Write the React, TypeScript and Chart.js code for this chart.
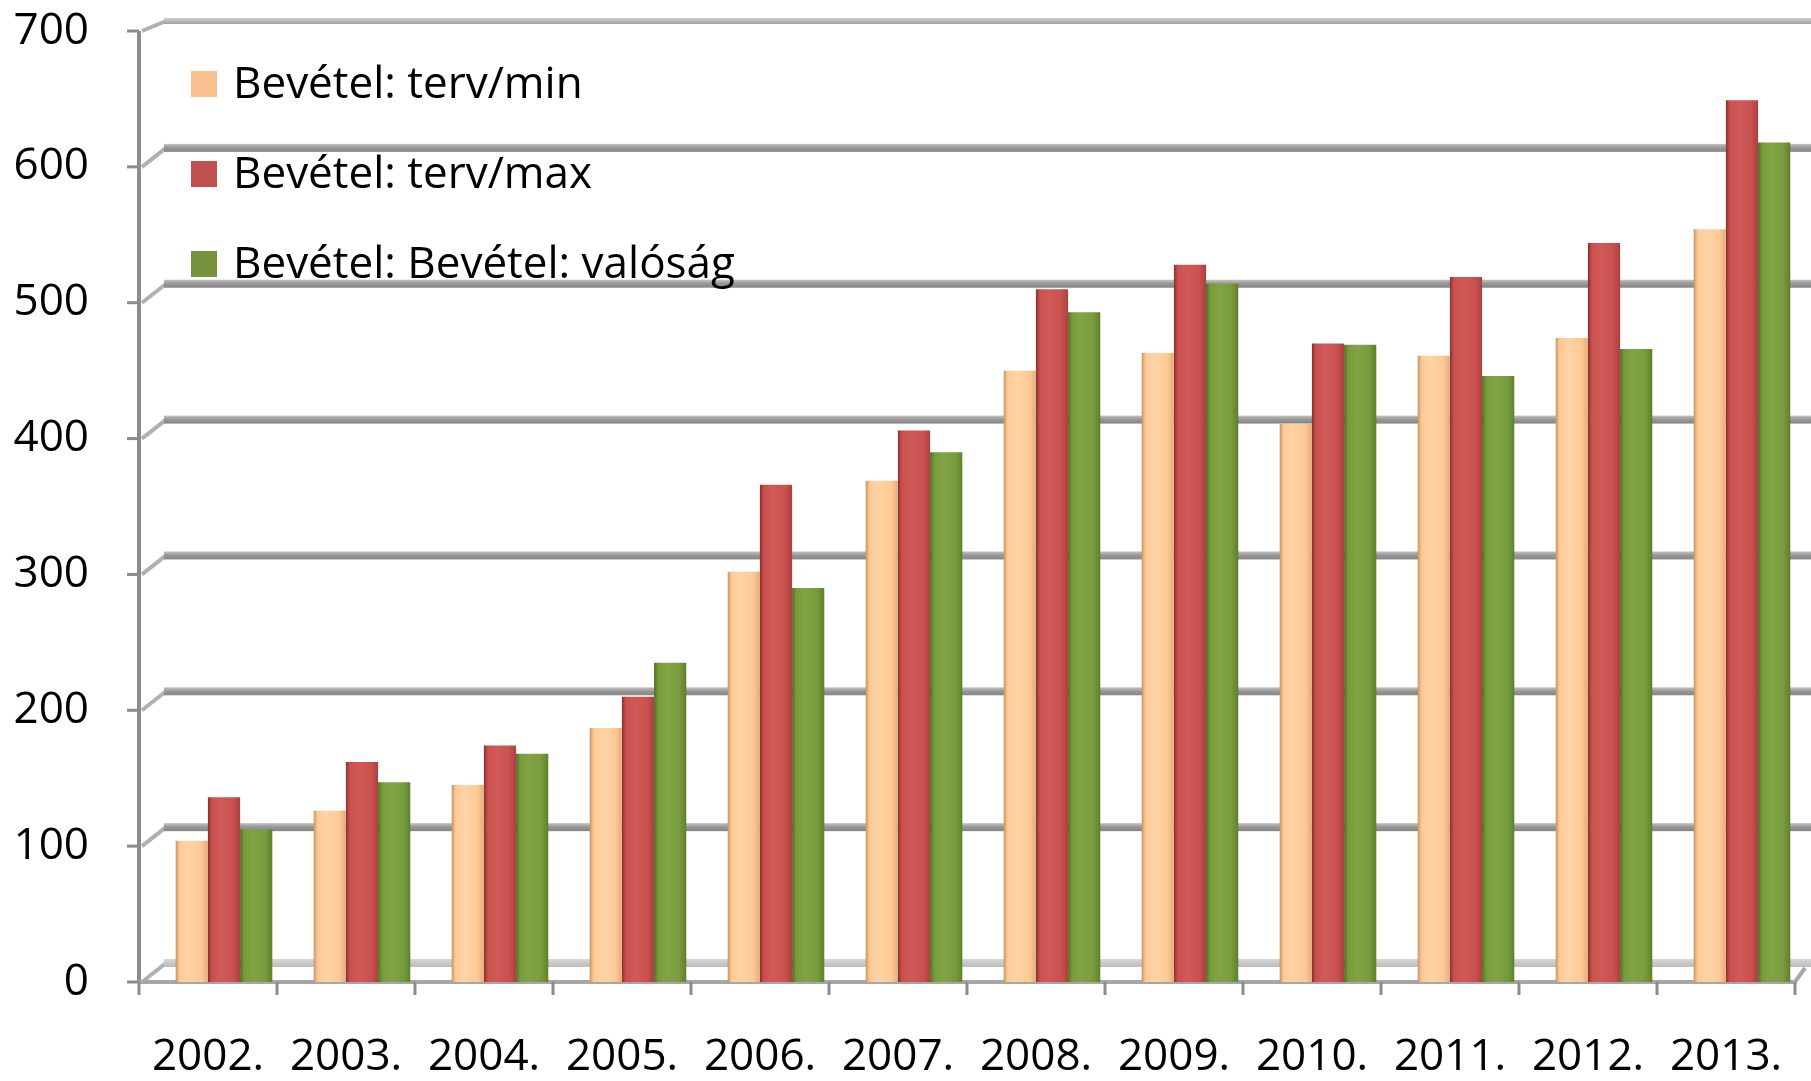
import React, { useEffect, useRef } from 'react';
import { Chart, registerables } from 'chart.js';

Chart.register(...registerables);

// ---- data ----
const categories = ['2002.', '2003.', '2004.', '2005.', '2006.', '2007.', '2008.', '2009.', '2010.', '2011.', '2012.', '2013.'];
const seriesLabels = ['Bevétel: terv/min', 'Bevétel: terv/max', 'Bevétel: Bevétel: valóság'];
const tervMin = [104, 126, 145, 187, 302, 369, 450, 463, 411, 461, 474, 554];
const tervMax = [136, 162, 174, 210, 366, 406, 510, 528, 470, 519, 544, 649];
const valosag = [112, 147, 168, 235, 290, 390, 493, 514, 469, 446, 466, 618];
const yTicks = [0, 100, 200, 300, 400, 500, 600, 700];

// ---- style ----
const W = 1811;
const H = 1081;
const FONT = '"Open Sans", sans-serif';
const FONT_SIZE = 44;
const DX = 16; // depth shift of bars vs. front axis
const DY = 19; // back-wall offset of gridlines
const legendColors = ['#FAC090', '#C0504D', '#77933C'];
const shades = [
  ['#C8935F', '#FFC994', '#FFD3A6', '#E3AC7C'],
  ['#8A2F2C', '#C9504E', '#D05A57', '#A8413E'],
  ['#4E6A24', '#779A3B', '#82A544', '#5E7F2C'],
];

function barFill(dsIndex: number) {
  return (c: any) => {
    const chart = c.chart;
    const xs = chart.scales?.x;
    const [d, m, l, r] = shades[dsIndex];
    if (!xs || c.type !== 'data' || !chart.chartArea) return m;
    const n = categories.length;
    const catW = (xs.right - xs.left) / n;
    const groupW = catW * 0.7;
    const barW = groupW / 3;
    const center = xs.getPixelForValue(c.dataIndex);
    const left = center - groupW / 2 + dsIndex * barW;
    const g = chart.ctx.createLinearGradient(left, 0, left + barW, 0);
    g.addColorStop(0, d);
    g.addColorStop(0.12, m);
    g.addColorStop(0.4, l);
    g.addColorStop(0.8, m);
    g.addColorStop(1, r);
    return g;
  };
}

const framePlugin = {
  id: 'frame3d',
  beforeDatasetsDraw(chart: any) {
    const { ctx, chartArea: a, scales } = chart;
    const y = scales.y;
    const x = scales.x;
    const axisX = a.left - DX;
    const yMax = yTicks[yTicks.length - 1];
    ctx.save();
    // back-wall gridlines
    yTicks.forEach((v) => {
      const py = y.getPixelForValue(v);
      const gy = v === yMax ? py - 10 : py - DY;
      const half = v === 0 ? 4 : v === yMax ? 3 : 4;
      // diagonal connector
      ctx.strokeStyle = '#b0b0b0';
      ctx.lineWidth = 4;
      ctx.beginPath();
      ctx.moveTo(axisX + 3, py);
      ctx.lineTo(axisX + 27, gy);
      ctx.stroke();
      // band
      const g = ctx.createLinearGradient(0, gy - half, 0, gy + half);
      if (v === 0) {
        g.addColorStop(0, '#d6d6d6');
        g.addColorStop(1, '#bcbcbc');
      } else if (v === yMax) {
        g.addColorStop(0, '#cfcfcf');
        g.addColorStop(1, '#a2a2a2');
      } else {
        g.addColorStop(0, '#c4c4c4');
        g.addColorStop(0.45, '#999999');
        g.addColorStop(1, '#858585');
      }
      ctx.fillStyle = g;
      ctx.fillRect(axisX + 25, gy - half, W - axisX - 25, half * 2);
    });
    // y axis line
    ctx.strokeStyle = '#8c8c8c';
    ctx.lineWidth = 4;
    ctx.beginPath();
    ctx.moveTo(axisX, y.getPixelForValue(yMax));
    ctx.lineTo(axisX, y.getPixelForValue(0));
    ctx.stroke();
    // y tick marks
    ctx.lineWidth = 3;
    yTicks.forEach((v) => {
      const py = y.getPixelForValue(v);
      ctx.beginPath();
      ctx.moveTo(axisX - 12, py);
      ctx.lineTo(axisX, py);
      ctx.stroke();
    });
    // x axis line
    const n = categories.length;
    const catW = (x.right - x.left) / n;
    const by = y.getPixelForValue(0);
    ctx.strokeStyle = '#a6a6a6';
    ctx.lineWidth = 4;
    ctx.beginPath();
    ctx.moveTo(axisX, by);
    ctx.lineTo(x.left + n * catW - DX, by);
    ctx.lineTo(x.left + n * catW - DX + 10, by - 14);
    ctx.stroke();
    // x tick marks
    ctx.strokeStyle = '#8c8c8c';
    ctx.lineWidth = 3;
    for (let i = 0; i <= n; i++) {
      const px = x.left + i * catW - DX;
      ctx.beginPath();
      ctx.moveTo(px, by);
      ctx.lineTo(px, by + 13);
      ctx.stroke();
    }
    ctx.restore();
  },
  afterDraw(chart: any) {
    const { ctx } = chart;
    ctx.save();
    ctx.font = `${FONT_SIZE}px ${FONT}`;
    ctx.textBaseline = 'middle';
    ctx.textAlign = 'left';
    const rows = [84, 174, 264];
    chart.data.datasets.forEach((ds: any, i: number) => {
      const cy = rows[i];
      ctx.fillStyle = legendColors[i];
      ctx.fillRect(191, cy - 13, 26, 26);
      ctx.fillStyle = '#000';
      ctx.fillText(ds.label, 233, cy + 1);
    });
    ctx.restore();
  },
};

export default function App() {
  const ref = useRef<HTMLCanvasElement>(null);
  useEffect(() => {
    document.body.style.margin = '0';
    const canvas = ref.current;
    if (!canvas) return;
    const chart = new Chart(canvas, {
      type: 'bar',
      data: {
        labels: categories,
        datasets: [tervMin, tervMax, valosag].map((d, i) => ({
          label: seriesLabels[i],
          data: d,
          backgroundColor: barFill(i),
          borderWidth: 0,
          categoryPercentage: 0.7,
          barPercentage: 1.0,
        })),
      },
      options: {
        responsive: false,
        animation: false,
        events: [],
        layout: { padding: { top: 31, left: 0, right: 0, bottom: 0 } },
        plugins: {
          legend: { display: false },
          tooltip: { enabled: false },
          title: { display: false },
        },
        scales: {
          x: {
            grid: { display: false, drawTicks: false },
            border: { display: false },
            ticks: {
              color: '#000',
              font: { family: FONT, size: FONT_SIZE },
              padding: 49,
              labelOffset: -DX,
              maxRotation: 0,
              autoSkip: false,
            },
            afterFit: (s: any) => {
              s.height = 99;
              s.paddingLeft = 0;
              s.paddingRight = 0;
              s.paddingTop = 0;
              s.paddingBottom = 0;
            },
          },
          y: {
            min: 0,
            max: 700,
            grid: { display: false, drawTicks: false },
            border: { display: false },
            ticks: {
              stepSize: 100,
              color: '#000',
              font: { family: FONT, size: FONT_SIZE },
              padding: 66,
            },
            afterFit: (s: any) => {
              s.width = 155;
              s.paddingTop = 0;
              s.paddingBottom = 0;
              s.paddingLeft = 0;
              s.paddingRight = 0;
            },
          },
        },
      },
      plugins: [framePlugin],
    });
    return () => chart.destroy();
  }, []);
  return (
    <div style={{ width: W, height: H, background: '#fff' }}>
      <canvas ref={ref} width={W} height={H} style={{ display: 'block', width: W, height: H }} />
    </div>
  );
}
